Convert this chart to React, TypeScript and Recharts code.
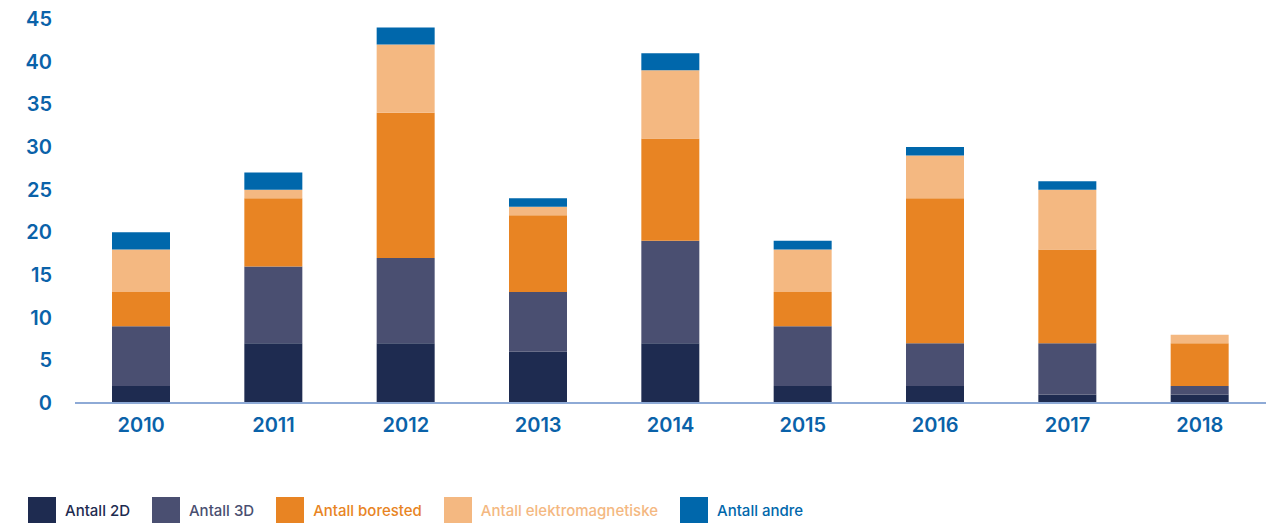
import React from "react";
import { BarChart, Bar, XAxis, YAxis, Legend } from "recharts";

const years = ["2010", "2011", "2012", "2013", "2014", "2015", "2016", "2017", "2018"];
const antall2D = [2, 7, 7, 6, 7, 2, 2, 1, 1];
const antall3D = [7, 9, 10, 7, 12, 7, 5, 6, 1];
const antallBorested = [4, 8, 17, 9, 12, 4, 17, 11, 5];
const antallElektro = [5, 1, 8, 1, 8, 5, 5, 7, 1];
const antallAndre = [2, 2, 2, 1, 2, 1, 1, 1, 0];
const yTicks = [0, 5, 10, 15, 20, 25, 30, 35, 40, 45];

const series = [
  { key: "d2", name: "Antall 2D", color: "#1e2b50", values: antall2D },
  { key: "d3", name: "Antall 3D", color: "#4a4f71", values: antall3D },
  { key: "bore", name: "Antall borested", color: "#e88423", values: antallBorested },
  { key: "elek", name: "Antall elektromagnetiske", color: "#f4b881", values: antallElektro },
  { key: "andre", name: "Antall andre", color: "#0067ab", values: antallAndre },
];

const data = years.map((y, i) => {
  const row: Record<string, any> = { year: y };
  series.forEach((s) => (row[s.key] = s.values[i]));
  return row;
});

const FONT = "Inter, 'Noto Sans', sans-serif";
const TICK_COLOR = "#0a62a9";

const renderLegend = () => {
  return (
    <div style={{ display: "flex", alignItems: "center", paddingLeft: 28, fontFamily: FONT }}>
      {series.map((s) => (
        <div key={s.key} style={{ display: "flex", alignItems: "center", marginRight: 22 }}>
          <div style={{ width: 28, height: 26, background: s.color, marginRight: 9 }} />
          <span style={{ color: s.color, fontSize: 15, fontWeight: 500 }}>{s.name}</span>
        </div>
      ))}
    </div>
  );
};

export default function App() {
  return (
    <div style={{ position: "absolute", left: 0, top: 0, width: 1274, height: 523, background: "#fff" }}>
      <BarChart width={1274} height={523} data={data} margin={{ top: 19, right: 8, left: 0, bottom: 0 }}>
        <XAxis
          dataKey="year"
          axisLine={{ stroke: "#8eaad6", strokeWidth: 2 }}
          tickLine={false}
          tickSize={0}
          tickMargin={15}
          height={94}
          tick={{ fill: TICK_COLOR, fontSize: 20, fontWeight: 600, fontFamily: FONT }}
        />
        <YAxis
          domain={[0, 45]}
          ticks={yTicks}
          width={75}
          axisLine={false}
          tickLine={false}
          tickSize={0}
          tickMargin={23}
          interval={0}
          tick={{ fill: TICK_COLOR, fontSize: 20, fontWeight: 600, fontFamily: FONT }}
        />
        <Legend verticalAlign="bottom" align="left" content={renderLegend} />
        {series.map((s) => (
          <Bar key={s.key} dataKey={s.key} name={s.name} stackId="a" fill={s.color} barSize={58} isAnimationActive={false} />
        ))}
      </BarChart>
    </div>
  );
}
